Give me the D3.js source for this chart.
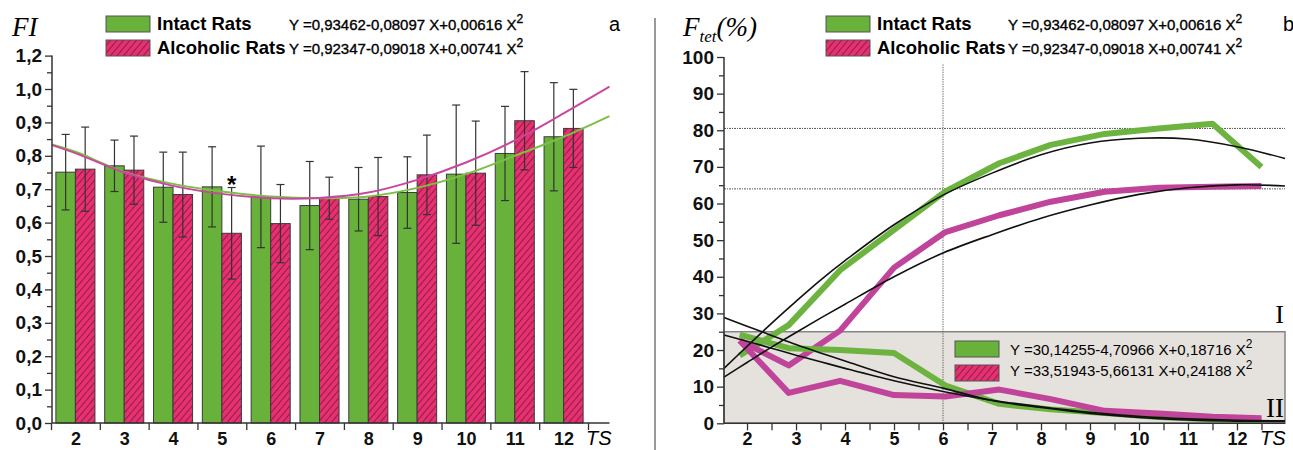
<!DOCTYPE html>
<html>
<head>
<meta charset="utf-8">
<script src="https://cdn.jsdelivr.net/npm/d3@7"></script>
<style>
body { margin: 0; background: #fff; }
svg { display: block; font-family: "Liberation Sans", Arial, sans-serif; }
</style>
</head>
<body>
<script>
// panel a: FI per session
const sessions = [2, 3, 4, 5, 6, 7, 8, 9, 10, 11, 12];
const fiIntact = [0.751, 0.770, 0.706, 0.707, 0.677, 0.651, 0.670, 0.690, 0.745, 0.807, 0.857];
const fiIntactSd = [0.113, 0.077, 0.105, 0.120, 0.152, 0.132, 0.095, 0.107, 0.207, 0.141, 0.162];
const fiAlcoholic = [0.760, 0.757, 0.684, 0.568, 0.597, 0.673, 0.678, 0.743, 0.748, 0.905, 0.882];
const fiAlcoholicSd = [0.126, 0.102, 0.127, 0.137, 0.117, 0.063, 0.117, 0.119, 0.156, 0.147, 0.117];
const fiSignificant = [5];

const fiFitX = [1.52, 2, 3, 4, 5, 6, 7, 8, 9, 10, 11, 12, 12.94];
const fiIntactFit = [0.834, 0.812, 0.752, 0.716, 0.693, 0.678, 0.673, 0.678, 0.704, 0.745, 0.800, 0.857, 0.919];
const fiAlcoholicFit = [0.832, 0.808, 0.750, 0.710, 0.686, 0.673, 0.674, 0.690, 0.728, 0.780, 0.846, 0.927, 1.007];

const fiTicks = [0, 0.1, 0.2, 0.3, 0.4, 0.5, 0.6, 0.7, 0.8, 0.9, 1.0, 1.1];
const fiTickLabels = ['0,0', '0,1', '0,2', '0,3', '0,4', '0,5', '0,6', '0,7', '0,8', '0,9', '1,0', '1,2'];
const fiMinor = [0.05, 0.15, 0.25, 0.35, 0.45, 0.55, 0.65, 0.75, 0.85, 0.95, 1.05];

// panel b: F tet (%)
const tetX = [1.85, 2.85, 3.9, 5.0, 6.05, 7.15, 8.2, 9.3, 10.4, 11.5, 12.5];
const tetIntactI = [18.5, 26.8, 41.8, 52.8, 63.3, 71.0, 76.0, 79.0, 80.5, 81.8, 70.0];
const tetAlcoholicI = [22.6, 15.8, 25.3, 42.5, 52.2, 56.8, 60.5, 63.2, 64.3, 64.6, 64.8];
const tetIntactII = [24.2, 20.5, 20.0, 19.2, 10.3, 5.3, 3.8, 2.8, 1.7, 1.1, 0.8];
const tetAlcoholicII = [22.6, 8.3, 11.6, 7.7, 7.3, 9.2, 6.6, 3.4, 2.7, 1.8, 1.4];

const tetFitX = [1.53, 2, 2.5, 3, 3.5, 4, 5, 6, 7, 8, 9, 10, 11, 12, 12.98];
const tetIntactFitI = [15.0, 21.0, 27.3, 33.3, 39.1, 44.4, 54.2, 62.3, 68.3, 73.3, 76.5, 77.8, 77.6, 75.5, 72.3];
const tetAlcoholicFitI = [12.6, 16.6, 20.8, 24.8, 28.7, 32.5, 40.0, 46.5, 51.5, 56.0, 59.6, 62.5, 64.3, 65.1, 64.8];
const tetIntactFitII = [24.1, 22.4, 20.5, 18.6, 16.8, 15.0, 11.6, 8.7, 6.3, 4.5, 3.0, 1.9, 1.2, 0.8, 0.7];
const tetAlcoholicFitII = [28.9, 26.5, 24.0, 21.5, 19.2, 17.0, 12.7, 9.6, 6.2, 4.3, 2.7, 1.6, 0.9, 0.6, 0.5];

const tetTicks = [0, 10, 20, 30, 40, 50, 60, 70, 80, 90, 100];
const tetMinor = [5, 15, 25, 35, 45, 55, 65, 75, 85, 95];
const tetRefLevels = [80.5, 64];
const tetRefSession = 6;
const tetZone = 25;

const legendNames = ['Intact Rats', 'Alcoholic Rats'];
const fiEquations = [['Y =0,93462-0,08097 X+0,00616 X', '2'], ['Y =0,92347-0,09018 X+0,00741 X', '2']];
const tetEquations = [['Y =30,14255-4,70966 X+0,18716 X', '2'], ['Y =33,51943-5,66131 X+0,24188 X', '2']];

const GREEN = '#68b23c';
const PINK = '#e6306f';
const GREEN_LINE = '#7bbf45';
const MAGENTA_LINE = '#c9479f';
const THICK_GREEN = '#6cb33f';
const THICK_MAGENTA = '#c0449a';

let svg = d3.select('body').append('svg')
    .attr('width', 1293)
    .attr('height', 450);

let defs = svg.append('defs');
let hatch = defs.append('pattern')
    .attr('id', 'hatch')
    .attr('patternUnits', 'userSpaceOnUse')
    .attr('width', 5)
    .attr('height', 5)
    .attr('patternTransform', 'rotate(40)');
hatch.append('rect').attr('width', 5).attr('height', 5).attr('fill', PINK);
hatch.append('line')
    .attr('x1', 0.5).attr('y1', 0).attr('x2', 0.5).attr('y2', 5)
    .attr('stroke', '#8f1d4a').attr('stroke-width', 1);

function styleAxis(g, size) {
    g.selectAll('.domain').remove();
    g.selectAll('line').attr('stroke', '#333').attr('stroke-width', 1.3);
    g.selectAll('text')
        .attr('fill', '#111')
        .style('font-size', size + 'px')
        .style('font-weight', 'bold');
}

function legend(x, y, eqX) {
    let g = svg.append('g');
    legendNames.forEach((name, i) => {
        g.append('rect')
            .attr('x', x).attr('y', y + i * 24)
            .attr('width', 44).attr('height', 16)
            .attr('fill', i === 0 ? GREEN : 'url(#hatch)')
            .attr('stroke', '#555');
        g.append('text')
            .attr('x', x + 51).attr('y', y + 14 + i * 24)
            .style('font-size', '18.5px').style('font-weight', 'bold')
            .text(name);
        let eq = g.append('text')
            .attr('x', eqX).attr('y', y + 14 + i * 24)
            .style('font-size', '15px')
            .attr('stroke', '#000').attr('stroke-width', 0.35);
        eq.append('tspan').text(fiEquations[i][0]);
        eq.append('tspan').attr('dy', -7).style('font-size', '12px').text(fiEquations[i][1]);
    });
}

// ---------- panel a ----------
const yL = d3.scaleLinear().domain([0, 1.1]).range([423, 55.6]);
const xBand = d3.scaleBand().domain(sessions).range([51, 588]).paddingInner(0.2).paddingOuter(0.1);
const xSub = d3.scaleBand().domain(['intact', 'alcoholic']).range([0, xBand.bandwidth()]);
const xLin = d3.scaleLinear().domain([2, 12])
    .range([xBand(2) + xBand.bandwidth() / 2, xBand(12) + xBand.bandwidth() / 2]);

let rows = sessions.map((s, i) => ({
    s: s,
    bars: [
        {key: 'intact', v: fiIntact[i], sd: fiIntactSd[i]},
        {key: 'alcoholic', v: fiAlcoholic[i], sd: fiAlcoholicSd[i]}
    ]
}));

let groups = svg.append('g').selectAll('g')
    .data(rows)
    .join('g')
    .attr('transform', d => `translate(${xBand(d.s)},0)`);

groups.selectAll('rect')
    .data(d => d.bars)
    .join('rect')
    .attr('x', d => xSub(d.key))
    .attr('y', d => yL(d.v))
    .attr('width', xSub.bandwidth())
    .attr('height', d => yL(0) - yL(d.v))
    .attr('fill', d => d.key === 'intact' ? GREEN : 'url(#hatch)')
    .attr('stroke', '#3a3a3a')
    .attr('stroke-width', 1);

let err = groups.selectAll('g.err')
    .data(d => d.bars)
    .join('g')
    .attr('class', 'err')
    .attr('stroke', '#333')
    .attr('stroke-width', 1.2);
err.append('line')
    .attr('x1', d => xSub(d.key) + xSub.bandwidth() / 2)
    .attr('x2', d => xSub(d.key) + xSub.bandwidth() / 2)
    .attr('y1', d => yL(d.v - d.sd))
    .attr('y2', d => yL(d.v + d.sd));
err.append('line')
    .attr('x1', d => xSub(d.key) + xSub.bandwidth() / 2 - 4)
    .attr('x2', d => xSub(d.key) + xSub.bandwidth() / 2 + 4)
    .attr('y1', d => yL(d.v + d.sd))
    .attr('y2', d => yL(d.v + d.sd));
err.append('line')
    .attr('x1', d => xSub(d.key) + xSub.bandwidth() / 2 - 4)
    .attr('x2', d => xSub(d.key) + xSub.bandwidth() / 2 + 4)
    .attr('y1', d => yL(d.v - d.sd))
    .attr('y2', d => yL(d.v - d.sd));

// significance mark
svg.append('g').selectAll('text')
    .data(fiSignificant)
    .join('text')
    .attr('x', s => xBand(s) + xSub('alcoholic') + xSub.bandwidth() / 2)
    .attr('y', s => {
        let i = sessions.indexOf(s);
        return yL(fiAlcoholic[i] + fiAlcoholicSd[i]) + 5;
    })
    .attr('text-anchor', 'middle')
    .style('font-size', '24px').style('font-weight', 'bold')
    .text('*');

let fitLine = d3.line()
    .x(d => xLin(d[0]))
    .y(d => yL(d[1]))
    .curve(d3.curveCatmullRom);

svg.append('path')
    .attr('d', fitLine(fiFitX.map((x, i) => [x, fiIntactFit[i]])))
    .attr('fill', 'none').attr('stroke', GREEN_LINE).attr('stroke-width', 2);
svg.append('path')
    .attr('d', fitLine(fiFitX.map((x, i) => [x, fiAlcoholicFit[i]])))
    .attr('fill', 'none').attr('stroke', MAGENTA_LINE).attr('stroke-width', 2);

// axes a
let gyL = svg.append('g').attr('transform', 'translate(52,0)');
gyL.call(d3.axisLeft(yL).tickValues(fiTicks).tickFormat((d, i) => fiTickLabels[i]).tickSize(7).tickPadding(3));
styleAxis(gyL, 19);
let gyLm = svg.append('g').attr('transform', 'translate(52,0)');
gyLm.call(d3.axisLeft(yL).tickValues(fiMinor).tickFormat('').tickSize(5));
styleAxis(gyLm, 19);
svg.append('line')
    .attr('x1', 52).attr('x2', 52)
    .attr('y1', yL(0)).attr('y2', yL(1.1))
    .attr('stroke', '#333').attr('stroke-width', 1.5);

let gxL = svg.append('g').attr('transform', `translate(0,${yL(0)})`);
gxL.call(d3.axisBottom(xLin).tickValues(d3.range(1.5, 13, 1)).tickFormat('').tickSize(7));
styleAxis(gxL, 18);
let gxLl = svg.append('g').attr('transform', `translate(0,${yL(0)})`);
gxLl.call(d3.axisBottom(xLin).tickValues(sessions).tickSize(0).tickPadding(9));
styleAxis(gxLl, 18);
svg.append('line')
    .attr('x1', 52).attr('x2', xLin(12.94))
    .attr('y1', yL(0)).attr('y2', yL(0))
    .attr('stroke', '#333').attr('stroke-width', 1.5);

svg.append('text')
    .attr('x', xLin(12.72)).attr('y', 445)
    .attr('text-anchor', 'middle')
    .style('font-size', '20px').style('font-style', 'italic')
    .text('TS');

svg.append('text')
    .attr('x', 12).attr('y', 36)
    .style('font-family', '"Liberation Serif", serif')
    .style('font-style', 'italic').style('font-size', '27px')
    .text('FI');

svg.append('text')
    .attr('x', 609).attr('y', 31)
    .style('font-size', '20px')
    .text('a');

legend(106, 16, 289);

// divider
svg.append('line')
    .attr('x1', 655).attr('x2', 655)
    .attr('y1', 18).attr('y2', 450)
    .attr('stroke', '#777').attr('stroke-width', 1.5);

// ---------- panel b ----------
const xR = d3.scaleLinear().domain([1.53, 12.98]).range([724, 1285]);
const yR = d3.scaleLinear().domain([0, 100]).range([423.3, 57]);

svg.append('rect')
    .attr('x', xR(1.53)).attr('y', yR(tetZone))
    .attr('width', xR(12.98) - xR(1.53))
    .attr('height', yR(0) - yR(tetZone))
    .attr('fill', '#e5e1dd')
    .attr('stroke', '#858585').attr('stroke-width', 1.5);

let refs = svg.append('g')
    .attr('stroke', '#555').attr('stroke-width', 1)
    .attr('stroke-dasharray', '2 1 1 1');
refs.selectAll('line.h')
    .data(tetRefLevels)
    .join('line')
    .attr('class', 'h')
    .attr('x1', xR(1.53)).attr('x2', xR(12.98))
    .attr('y1', d => yR(d)).attr('y2', d => yR(d));
refs.append('line')
    .attr('x1', xR(tetRefSession)).attr('x2', xR(tetRefSession))
    .attr('y1', yR(0)).attr('y2', yR(98))
    .attr('stroke-dasharray', '1.2 1.2');

let tetLine = d3.line()
    .x(d => xR(d[0]))
    .y(d => yR(d[1]));

[[tetIntactI, THICK_GREEN], [tetAlcoholicI, THICK_MAGENTA], [tetIntactII, THICK_GREEN], [tetAlcoholicII, THICK_MAGENTA]]
    .forEach(([vals, color]) => {
        svg.append('path')
            .attr('d', tetLine(tetX.map((x, i) => [x, vals[i]])))
            .attr('fill', 'none')
            .attr('stroke', color)
            .attr('stroke-width', 6)
            .attr('stroke-linejoin', 'round');
    });

let tetFitLine = d3.line()
    .x(d => xR(d[0]))
    .y(d => yR(d[1]))
    .curve(d3.curveCatmullRom);

[tetIntactFitI, tetAlcoholicFitI, tetIntactFitII, tetAlcoholicFitII].forEach(vals => {
    svg.append('path')
        .attr('d', tetFitLine(tetFitX.map((x, i) => [x, vals[i]])))
        .attr('fill', 'none')
        .attr('stroke', '#111')
        .attr('stroke-width', 1.6);
});

// legend inside zone II
let zoneLegend = svg.append('g');
tetEquations.forEach((eq, i) => {
    zoneLegend.append('rect')
        .attr('x', 955).attr('y', 341 + i * 24)
        .attr('width', 44).attr('height', 16)
        .attr('fill', i === 0 ? GREEN : 'url(#hatch)')
        .attr('stroke', '#555');
    let t = zoneLegend.append('text')
        .attr('x', 1010).attr('y', 355 + i * 21)
        .style('font-size', '15px');
    t.append('tspan').text(eq[0]);
    t.append('tspan').attr('dy', -7).style('font-size', '12px').text(eq[1]);
});

svg.append('text')
    .attr('x', 1284).attr('y', 323)
    .attr('text-anchor', 'end')
    .style('font-family', '"Liberation Serif", serif').style('font-size', '26px')
    .text('I');
svg.append('text')
    .attr('x', 1284).attr('y', 417)
    .attr('text-anchor', 'end')
    .style('font-family', '"Liberation Serif", serif').style('font-size', '27px')
    .text('II');

// axes b
let gyR = svg.append('g').attr('transform', `translate(${xR(1.53)},0)`);
gyR.call(d3.axisLeft(yR).tickValues(tetTicks).tickSize(7).tickPadding(3));
styleAxis(gyR, 19);
let gyRm = svg.append('g').attr('transform', `translate(${xR(1.53)},0)`);
gyRm.call(d3.axisLeft(yR).tickValues(tetMinor).tickFormat('').tickSize(5));
styleAxis(gyRm, 19);
svg.append('line')
    .attr('x1', xR(1.53)).attr('x2', xR(1.53))
    .attr('y1', yR(0)).attr('y2', yR(100))
    .attr('stroke', '#333').attr('stroke-width', 1.5);

let gxR = svg.append('g').attr('transform', `translate(0,${yR(0)})`);
gxR.call(d3.axisBottom(xR).tickValues(d3.range(2, 12.6, 0.5)).tickFormat('').tickSize(7));
styleAxis(gxR, 18);
let gxRl = svg.append('g').attr('transform', `translate(0,${yR(0)})`);
gxRl.call(d3.axisBottom(xR).tickValues(sessions).tickSize(0).tickPadding(9));
styleAxis(gxRl, 18);
svg.append('line')
    .attr('x1', xR(1.53)).attr('x2', xR(12.98))
    .attr('y1', yR(0)).attr('y2', yR(0))
    .attr('stroke', '#333').attr('stroke-width', 1.5);

svg.append('text')
    .attr('x', xR(12.73)).attr('y', 445)
    .attr('text-anchor', 'middle')
    .style('font-size', '20px').style('font-style', 'italic')
    .text('TS');

let ftet = svg.append('text')
    .attr('x', 683).attr('y', 36)
    .style('font-family', '"Liberation Serif", serif')
    .style('font-style', 'italic');
ftet.append('tspan').style('font-size', '27px').text('F');
ftet.append('tspan').attr('dy', 6).style('font-size', '17px').text('tet');
ftet.append('tspan').attr('dy', -6).style('font-size', '27px').text('(%)');

svg.append('text')
    .attr('x', 1283).attr('y', 31)
    .style('font-size', '20px')
    .text('b');

legend(826, 16, 1008);
</script>
</body>
</html>
